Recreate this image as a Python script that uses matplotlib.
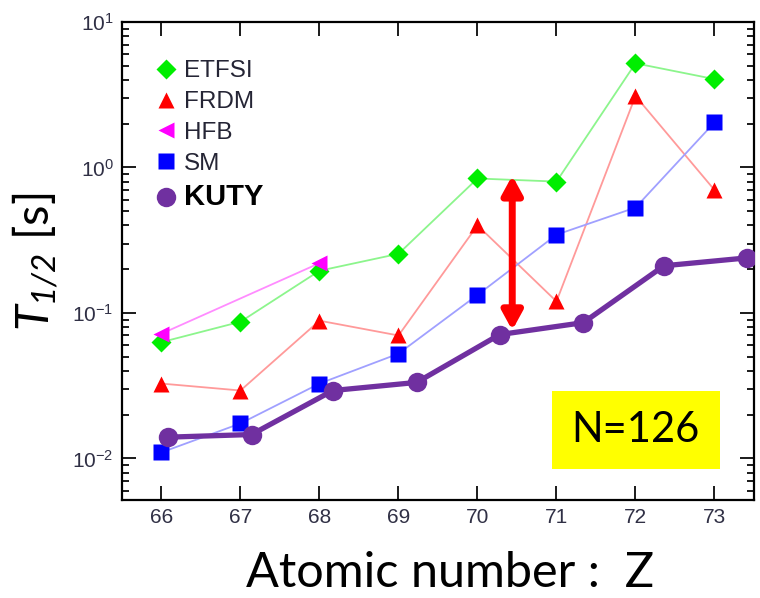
import matplotlib
matplotlib.use('Agg')
import matplotlib.pyplot as plt
from matplotlib.lines import Line2D
from matplotlib.patches import Rectangle
from matplotlib.ticker import LogLocator, NullLocator, FixedLocator

plt.rcParams['font.family'] = ['Liberation Sans', 'DejaVu Sans']
plt.rcParams['mathtext.fontset'] = 'custom'
plt.rcParams['mathtext.rm'] = 'Liberation Sans'
plt.rcParams['mathtext.it'] = 'Lato:italic'
plt.rcParams['mathtext.sf'] = 'Lato:italic'

# half-lives of N=126 isotones [s]
z = [66, 67, 68, 69, 70, 71, 72, 73]
etfsi = [0.063, 0.087, 0.195, 0.255, 0.84, 0.80, 5.2, 4.05]
frdm = [0.0327, 0.0293, 0.0885, 0.070, 0.40, 0.12, 3.1, 0.70]
hfb_z = [66, 68]
hfb = [0.072, 0.22]
sm = [0.0110, 0.0174, 0.0327, 0.0525, 0.133, 0.345, 0.53, 2.04]
kuty_z = [66.08, 67.14, 68.17, 69.23, 70.28, 71.34, 72.36, 73.41]
kuty = [0.0140, 0.0146, 0.0293, 0.0333, 0.071, 0.0858, 0.211, 0.239]

# spread between models at Z=70
arrow_z = 70.44
arrow_lo, arrow_hi = 0.076, 0.88

fig = plt.figure(figsize=(7.6, 5.98), dpi=100)
ax = fig.add_axes([0.1605, 0.1639, 0.8316, 0.7993])

ax.plot(z, etfsi, '-', color='#8cf58c', lw=1.3, zorder=2)
ax.plot(z, etfsi, 'D', color='#00ee00', ms=10, mec='none', zorder=3)
ax.plot(z, frdm, '-', color='#ff9a9a', lw=1.3, zorder=2)
ax.plot(z, frdm, '^', color='#ff0000', ms=12, mec='none', zorder=3)
ax.plot(hfb_z, hfb, '-', color='#ff8cff', lw=1.3, zorder=2)
ax.plot(hfb_z, hfb, '<', color='#ff00ff', ms=12, mec='none', zorder=3)
ax.plot(z, sm, '-', color='#a0a0ff', lw=1.3, zorder=2)
ax.plot(z, sm, 's', color='#0000ff', ms=12, mec='none', zorder=3)
ax.plot(kuty_z, kuty, '-o', color='#7030a0', lw=3.8, ms=14, mec='none', zorder=5)

ax.annotate('', xy=(arrow_z, arrow_hi), xytext=(arrow_z, arrow_lo),
            arrowprops=dict(arrowstyle='<|-|>,head_length=1.1,head_width=0.6',
                            color='#ff0000', lw=5, shrinkA=0, shrinkB=0),
            zorder=6)

ax.set_xlim(65.5, 73.5)
ax.set_yscale('log')
ax.set_ylim(0.00518, 10)
ax.xaxis.set_major_locator(FixedLocator(z))
ax.xaxis.set_minor_locator(NullLocator())
ax.yaxis.set_major_locator(LogLocator(base=10, numticks=10))
ax.yaxis.set_minor_locator(LogLocator(base=10, subs=range(2, 10), numticks=10))

for s in ax.spines.values():
    s.set_linewidth(1.6)
ax.tick_params(which='both', direction='in', top=True, right=True,
               width=1.4, colors='#1a1a1a', labelcolor='#303045')
ax.tick_params(which='major', length=10, labelsize=15, pad=6)
ax.tick_params(which='minor', length=5)

handles = [
    Line2D([], [], ls='none', marker='D', color='#00ee00', ms=10, mec='none'),
    Line2D([], [], ls='none', marker='^', color='#ff0000', ms=12, mec='none'),
    Line2D([], [], ls='none', marker='<', color='#ff00ff', ms=12, mec='none'),
    Line2D([], [], ls='none', marker='s', color='#0000ff', ms=12, mec='none'),
    Line2D([], [], ls='none', marker='o', color='#7030a0', ms=14, mec='none'),
]
leg = ax.legend(handles, ['ETFSI', 'FRDM', 'HFB', 'SM', 'KUTY'],
                loc='upper left', bbox_to_anchor=(0.037, 0.94), frameon=False,
                fontsize=17.5, handlelength=0.9, handletextpad=0.3,
                labelspacing=0.36, borderaxespad=0)
for t in leg.get_texts():
    t.set_color('#252535')
kt = leg.get_texts()[-1]
kt.set_fontweight('bold')
kt.set_fontsize(21)
kt.set_color('black')

ax.add_patch(Rectangle((0.680, 0.065), 0.266, 0.163, transform=ax.transAxes,
                       facecolor='#ffff00', edgecolor='none', zorder=7))
ax.text(0.813, 0.146, 'N=126', transform=ax.transAxes, ha='center', va='center',
        fontsize=30, family='Lato', zorder=8)

fig.text(450 / 760, 1 - 573 / 598, 'Atomic number :  Z', ha='center', va='center',
         fontsize=35, family='Lato')
fig.text(35 / 760, 1 - 262 / 598, r'$T_{\mathsf{1/2}}$ [s]', ha='center', va='center',
         rotation=90, fontsize=34, family='Lato')

fig.savefig('out.png', dpi=100)
